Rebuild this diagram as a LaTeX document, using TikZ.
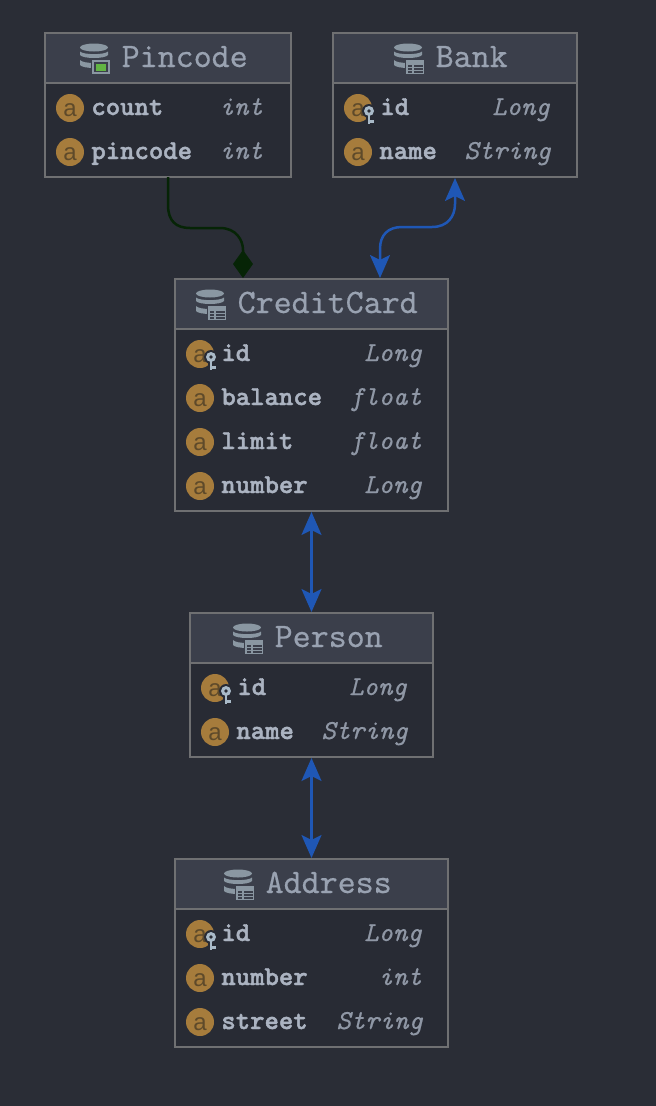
\documentclass[tikz,border=0pt]{standalone}
\usepackage{fontspec}
\setsansfont{Liberation Sans}
\newfontfamily\titlefont{lmmono10-regular.otf}[FakeBold=0.5]
\newfontfamily\fieldfont{lmmonolt10-bold.otf}[FakeBold=1.6]
\newfontfamily\typefont{lmmono10-italic.otf}[FakeBold=0.5]
\usetikzlibrary{arrows.meta,calc}
\definecolor{bgc}{HTML}{2A2D36}
\definecolor{bodyc}{HTML}{282B34}
\definecolor{headc}{HTML}{3B3F4B}
\definecolor{edgec}{HTML}{6F7072}
\definecolor{titlec}{HTML}{99A2B1}
\definecolor{fieldc}{HTML}{ABB3C1}
\definecolor{typec}{HTML}{8F97A5}
\definecolor{orangec}{HTML}{A67C3C}
\definecolor{letterc}{HTML}{5E4A2A}
\definecolor{dbc}{HTML}{8A97A2}
\definecolor{keyc}{HTML}{A9BAC8}
\definecolor{bluec}{HTML}{1F57B5}
\definecolor{greenc}{HTML}{062406}
\definecolor{leafc}{HTML}{62B543}
\tikzset{
  tablebox/.style={draw=edgec,line width=2pt,fill=bodyc,rectangle,inner sep=0pt,outer sep=0pt,anchor=north west},
  headbox/.style={draw=edgec,line width=2pt,fill=headc,rectangle,inner sep=0pt,outer sep=0pt,anchor=north west},
  titletext/.style={anchor=base west,inner sep=0pt,text=titlec,font=\titlefont\fontsize{34.3}{34}\selectfont},
  fieldtext/.style={anchor=base west,inner sep=0pt,text=fieldc,font=\fieldfont\fontsize{27.4}{27}\selectfont},
  typetext/.style={anchor=base east,inner sep=0pt,text=typec,font=\typefont\fontsize{27.4}{27}\selectfont},
  attricon/.style={circle,fill=orangec,minimum size=28pt,inner sep=0pt,outer sep=0pt},
  attrletter/.style={anchor=base,inner sep=0pt,text=letterc,font=\sffamily\fontsize{24}{24}\selectfont},
  bidir/.style={draw=bluec,line width=2.5pt,{Stealth[length=23pt,width=20pt,inset=5pt]}-{Stealth[length=23pt,width=20pt,inset=5pt]}},
  comp/.style={draw=greenc,line width=2.5pt,-{Diamond[length=28pt,width=20pt]}},
}
\newcommand{\dbdisks}[2]{%
  \begin{scope}[shift={(#1,#2)}]
    \fill[dbc] (14,8.5) ellipse [x radius=14,y radius=4];
    \fill[dbc] (0,12.5) .. controls (3,16) and (25,16) .. (28,12.5) -- (28,16) .. controls (25,20) and (3,20) .. (0,16) -- cycle;
    \fill[dbc] (0,21) .. controls (3,25) and (25,25) .. (28,21) -- (28,26) .. controls (25,30) and (3,30) .. (0,26) -- cycle;
  \end{scope}}
\newcommand{\tableglyph}[2]{%
  \begin{scope}[shift={(#1,#2)}]
    \fill[headc] (10.5,19.5) rectangle (31,36.5);
    \fill[dbc] (12,21) rectangle (30,35);
    \foreach \b in {25.5,29,32}{\fill[headc] (13.5,\b) rectangle (18,\b+2); \fill[headc] (19.5,\b) rectangle (28.5,\b+2);}
  \end{scope}}
\newcommand{\leafglyph}[2]{%
  \begin{scope}[shift={(#1,#2)}]
    \fill[headc] (10.5,19.5) rectangle (31,36.5);
    \fill[dbc] (12,21) rectangle (30,35);
    \fill[headc] (14,23) rectangle (28,33);
    \fill[leafc] (16,24.5) rectangle (26,31.5);
  \end{scope}}
\newcommand{\fieldrow}[7]{% name, icon x, text x, right x, y, label, type
  \node[attricon] (#1icon) at (#2,#5) {};
  \node[attrletter] (#1letter) at (#2,#5+8) {a};
  \node[fieldtext] (#1label) at (#3-0.8,#5+7) {#6};
  \node[typetext] (#1type) at (#4-1,#5+7) {#7};
}
\newcommand{\keymark}[2]{%
  \begin{scope}[shift={(#1,#2)}]
    \fill[bodyc] (11,3) circle (7);
    \fill[bodyc] (8,6) rectangle (17.5,17);
    \fill[keyc] (11,3) circle (5);
    \fill[bodyc] (11,3) circle (1.8);
    \fill[keyc] (9.5,6) rectangle (12.2,15.5);
    \fill[keyc] (12,12) rectangle (16,14.5);
  \end{scope}}
\begin{document}
\begin{tikzpicture}[x=1pt,y=-1pt]
\useasboundingbox[fill=bgc] (0,0) rectangle (656,1106);

% Pincode
\node[tablebox,minimum width=246pt,minimum height=144pt] (pincode) at (45,33) {};
\node[headbox,minimum width=246pt,minimum height=50pt] (pincodehead) at (45,33) {};
\dbdisks{80}{39}\leafglyph{80}{39}
\node[titletext] (pincodetitle) at (121.5,67) {Pincode};
\fieldrow{pincount}{70}{92}{264}{108}{count}{int}
\fieldrow{pinpin}{70}{92}{264}{152}{pincode}{int}

% Bank
\node[tablebox,minimum width=244pt,minimum height=144pt] (bank) at (333,33) {};
\node[headbox,minimum width=244pt,minimum height=50pt] (bankhead) at (333,33) {};
\dbdisks{394}{39}\tableglyph{394}{39}
\node[titletext] (banktitle) at (435.5,67) {Bank};
\fieldrow{bankid}{358}{381}{551}{108}{id}{Long}
\keymark{358}{108}
\fieldrow{bankname}{358}{380}{552}{152}{name}{String}

% CreditCard
\node[tablebox,minimum width=273pt,minimum height=232pt] (card) at (175,279) {};
\node[headbox,minimum width=273pt,minimum height=50pt] (cardhead) at (175,279) {};
\dbdisks{196}{285}\tableglyph{196}{285}
\node[titletext] (cardtitle) at (237.5,313) {CreditCard};
\fieldrow{cardid}{200}{222}{423}{354}{id}{Long}
\keymark{200}{354}
\fieldrow{cardbal}{200}{222}{423}{398}{balance}{float}
\fieldrow{cardlim}{200}{222}{423}{442}{limit}{float}
\fieldrow{cardnum}{200}{222}{423}{486}{number}{Long}

% Person
\node[tablebox,minimum width=243pt,minimum height=144pt] (person) at (190,613) {};
\node[headbox,minimum width=243pt,minimum height=50pt] (personhead) at (190,613) {};
\dbdisks{233}{619}\tableglyph{233}{619}
\node[titletext] (persontitle) at (274.5,647) {Person};
\fieldrow{personid}{215}{238}{408}{688}{id}{Long}
\keymark{215}{688}
\fieldrow{personname}{215}{237}{409}{732}{name}{String}

% Address
\node[tablebox,minimum width=273pt,minimum height=188pt] (address) at (175,859) {};
\node[headbox,minimum width=273pt,minimum height=50pt] (addresshead) at (175,859) {};
\dbdisks{224}{865}\tableglyph{224}{865}
\node[titletext] (addresstitle) at (265.5,893) {Address};
\fieldrow{addrid}{200}{222}{423}{934}{id}{Long}
\keymark{200}{934}
\fieldrow{addrnum}{200}{222}{423}{978}{number}{int}
\fieldrow{addrstreet}{200}{222}{424}{1022}{street}{String}

% Connectors
\coordinate (cardpin) at ($(card.north west)+(68,-1)$);
\coordinate (cardbank) at ($(card.north west)+(205,-1)$);
\draw[comp] (pincode.south) -- ++(0,28) .. controls +(0,16) and +(-14,0) .. ++(22,23) -- ++(30,0) .. controls +(16,0) and +(0,-10) .. ++(23,22) -- (cardpin);
\draw[bidir] (cardbank) -- ++(0,-29) .. controls +(0,-14) and +(-14,0) .. ++(22,-22) -- ++(30,0) .. controls +(16,0) and +(0,12) .. ++(23,-23) -- ($(bank.south)+(0,1)$);
\draw[bidir] ($(card.south)+(0,1)$) -- ($(person.north)+(0,-1)$);
\draw[bidir] ($(person.south)+(0,1)$) -- ($(address.north)+(0,-1)$);
\end{tikzpicture}
\end{document}
